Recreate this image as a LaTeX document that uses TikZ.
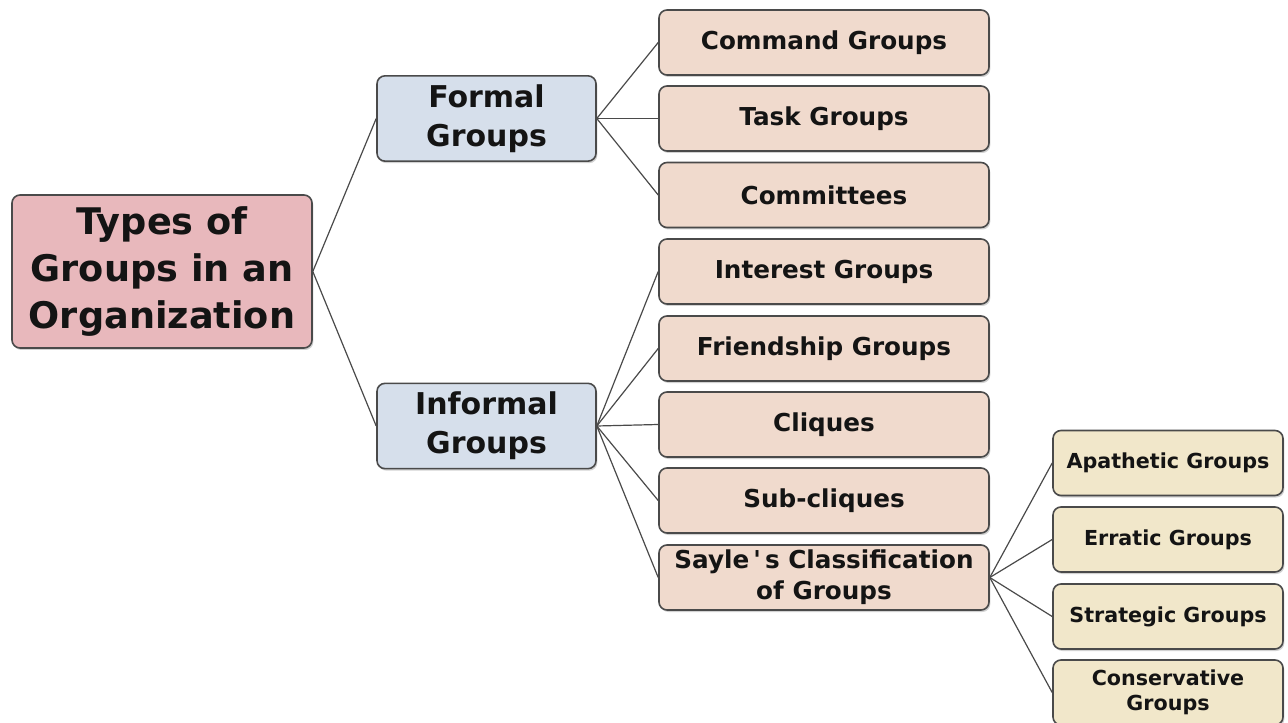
\documentclass[tikz,border=0pt]{standalone}
\usepackage{fontspec}
\setmainfont{DejaVu Sans}[Ligatures=TeXOff]
\usetikzlibrary{shadows}
\definecolor{rootfill}{HTML}{E8B8BC}
\definecolor{bluefill}{HTML}{D6DFEB}
\definecolor{peachfill}{HTML}{F0DACD}
\definecolor{creamfill}{HTML}{F1E7CA}
\definecolor{edgegray}{HTML}{4A4A4A}
\tikzset{
  box/.style={draw=edgegray, line width=1.2pt, rounded corners=6pt, align=center,
    inner sep=2pt, font=\bfseries, text=black!92,
    drop shadow={shadow xshift=1pt, shadow yshift=-1.5pt, opacity=0.35}},
  rootbox/.style={box, fill=rootfill, minimum width=225pt, minimum height=114.75pt,
    font=\bfseries\fontsize{27.5}{35}\selectfont},
  midbox/.style={box, fill=bluefill, minimum width=164.25pt, minimum height=64pt,
    font=\bfseries\fontsize{22.5}{29}\selectfont},
  leafbox/.style={box, fill=peachfill, minimum width=247.5pt, minimum height=48.75pt,
    font=\bfseries\fontsize{18.5}{23}\selectfont},
  subbox/.style={box, fill=creamfill, minimum width=172.5pt, minimum height=48.75pt,
    font=\bfseries\fontsize{15.5}{19}\selectfont},
  link/.style={draw=edgegray, line width=0.9pt}
}
\begin{document}
\begin{tikzpicture}[x=0.75pt,y=-0.75pt]
\useasboundingbox[fill=white] (0,0) rectangle (1288,723);
\begin{scope}
\clip (0,0) rectangle (1288,723);
\node[rootbox] (root) at (162,271.5) {Types of\\Groups in an\\Organization};
\node[midbox] (formal) at (486.5,118.5) {Formal\\Groups};
\node[midbox] (informal) at (486.5,426) {Informal\\Groups};
\node[leafbox] (command) at (824,42.5) {Command Groups};
\node[leafbox] (task) at (824,118.5) {Task Groups};
\node[leafbox] (committees) at (824,195) {Committees};
\node[leafbox] (interest) at (824,271.5) {Interest Groups};
\node[leafbox] (friendship) at (824,348.5) {Friendship Groups};
\node[leafbox] (cliques) at (824,424.5) {Cliques};
\node[leafbox] (subcliques) at (824,500.5) {Sub-cliques};
\node[leafbox] (sayle) at (824,577.5) {Sayle\,'\,s Classification\\of Groups};
\node[subbox] (apathetic) at (1168,463) {Apathetic Groups};
\node[subbox] (erratic) at (1168,539.5) {Erratic Groups};
\node[subbox] (strategic) at (1168,616.5) {Strategic Groups};
\node[subbox] (conservative) at (1168,692.5) {Conservative\\Groups};
\end{scope}
\draw[link] (root.east) -- (formal.west);
\draw[link] (root.east) -- (informal.west);
\foreach \n in {command,task,committees} \draw[link] (formal.east) -- (\n.west);
\foreach \n in {interest,friendship,cliques,subcliques,sayle} \draw[link] (informal.east) -- (\n.west);
\foreach \n in {apathetic,erratic,strategic,conservative} \draw[link] (sayle.east) -- (\n.west);
\end{tikzpicture}
\end{document}
